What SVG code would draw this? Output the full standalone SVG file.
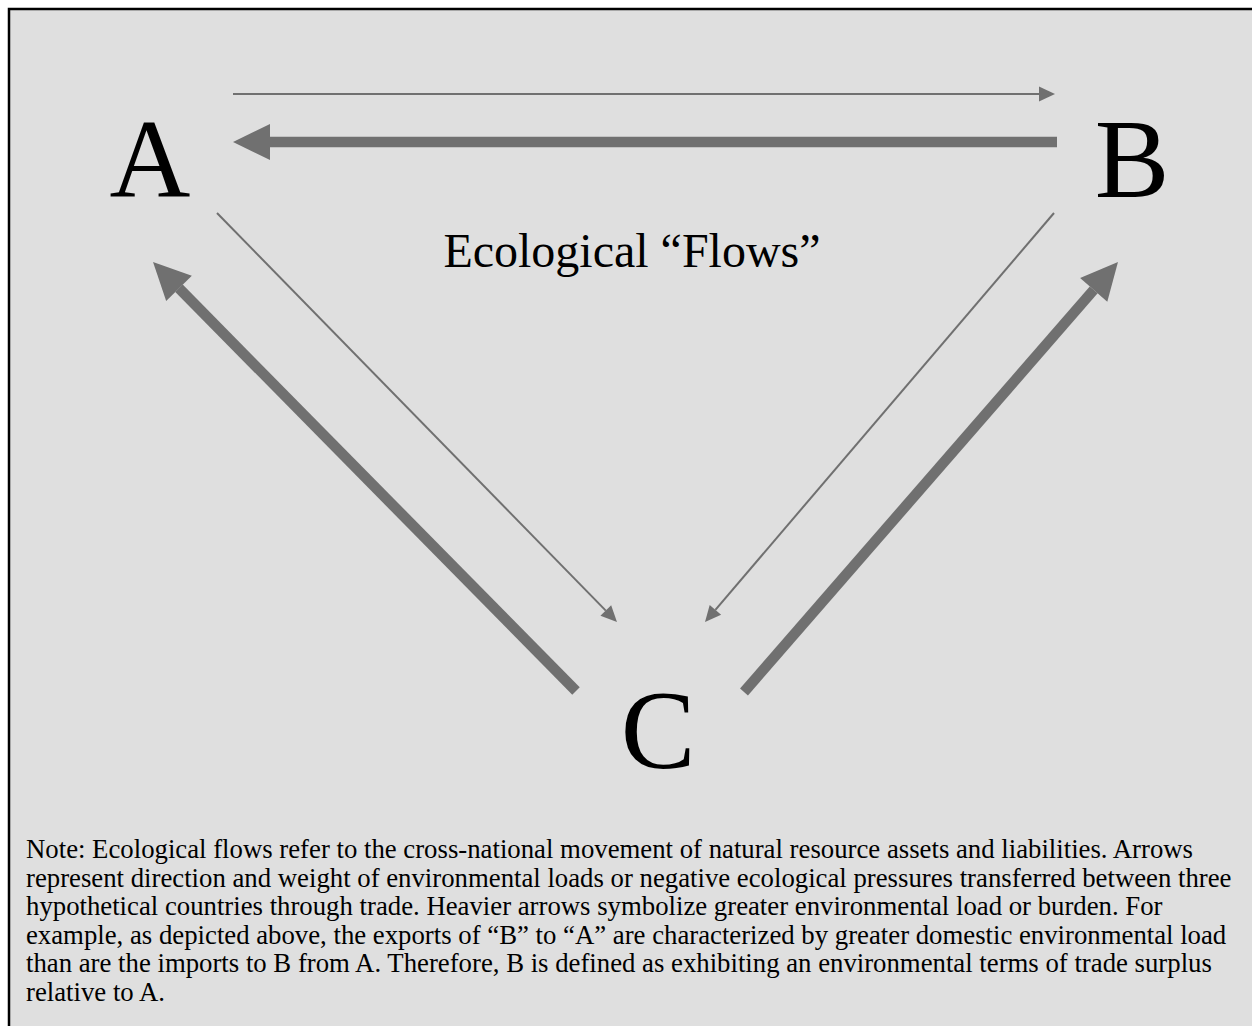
<svg xmlns="http://www.w3.org/2000/svg" width="1252" height="1026" viewBox="0 0 1252 1026">
  <style>
    .frame { fill: #DFDFDF; stroke: #000000; stroke-width: 2.5; }
    .label { font-family: "Liberation Serif", "Times New Roman", serif; fill: #000000; }
    .node { font-size: 112px; text-anchor: middle; }
    .title { font-size: 48px; text-anchor: middle; }
    .note { font-size: 26.75px; }
    .thin { stroke: #707070; stroke-width: 2; fill: none; marker-end: url(#headThin); }
    .thick { stroke: #707070; stroke-width: 10.5; fill: none; marker-end: url(#headThick); }
  </style>
  <defs>
    <marker id="headThin" markerUnits="userSpaceOnUse" markerWidth="20" markerHeight="20" viewBox="0 -10 20 20" refX="0" refY="0" orient="auto" overflow="visible">
      <path d="M0,-7.5 L16,0 L0,7.5 Z" fill="#707070"/>
    </marker>
    <marker id="headThick" markerUnits="userSpaceOnUse" markerWidth="40" markerHeight="40" viewBox="0 -20 40 40" refX="0" refY="0" orient="auto" overflow="visible">
      <path d="M0,-18 L37,0 L0,18 Z" fill="#707070"/>
    </marker>
  </defs>

  <rect class="frame" x="9" y="9" width="1260" height="1040"/>

  <g id="connectors">
    <line class="thin" x1="233" y1="94" x2="1039" y2="94"/>
    <line class="thick" x1="1057" y1="142" x2="270" y2="142"/>
    <line class="thin" x1="217" y1="213" x2="605.8" y2="610.6"/>
    <line class="thin" x1="1054" y1="213" x2="715.4" y2="609.8"/>
    <line class="thick" x1="576" y1="691" x2="179" y2="288.3"/>
    <line class="thick" x1="744" y1="692" x2="1093.7" y2="289.9"/>
  </g>

  <g id="node-A"><text class="label node" x="150" y="197">A</text></g>
  <g id="node-B"><text class="label node" x="1132" y="197">B</text></g>
  <g id="node-C"><text class="label node" x="658" y="768">C</text></g>

  <g id="title"><text class="label title" x="632" y="267">Ecological “Flows”</text></g>

  <g id="note" class="label note">
    <text x="26" y="858">Note: Ecological flows refer to the cross-national movement of natural resource assets and liabilities. Arrows</text>
    <text x="26" y="886.6">represent direction and weight of environmental loads or negative ecological pressures transferred between three</text>
    <text x="26" y="915.2">hypothetical countries through trade. Heavier arrows symbolize greater environmental load or burden. For</text>
    <text x="26" y="943.8">example, as depicted above, the exports of “B” to “A” are characterized by greater domestic environmental load</text>
    <text x="26" y="972.4">than are the imports to B from A. Therefore, B is defined as exhibiting an environmental terms of trade surplus</text>
    <text x="26" y="1001">relative to A.</text>
  </g>
</svg>
